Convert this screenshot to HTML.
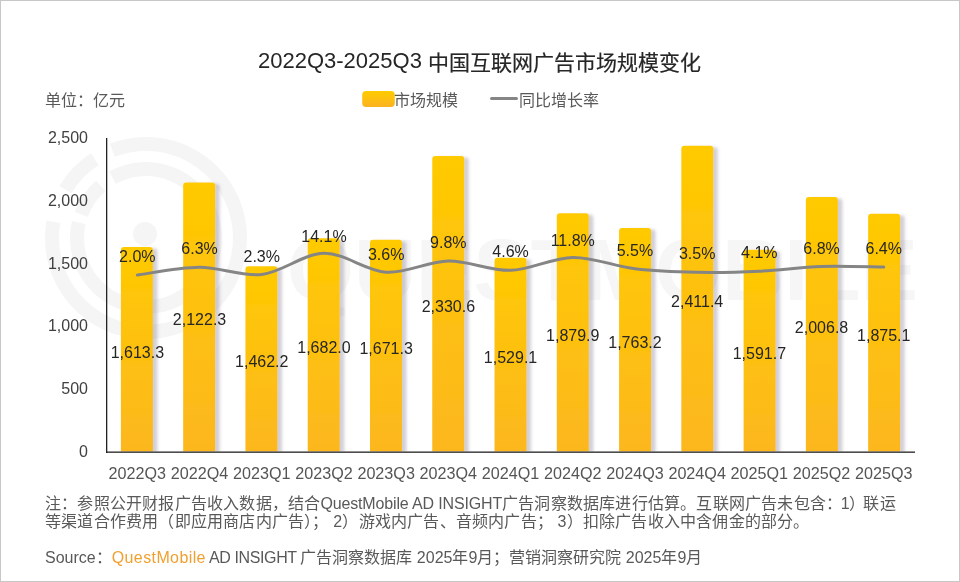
<!DOCTYPE html>
<html lang="zh-CN"><head><meta charset="utf-8"><style>
html,body{margin:0;padding:0;background:#fff;}
body{will-change:transform;width:960px;height:582px;overflow:hidden;position:relative;font-family:"Liberation Sans",sans-serif;}
.frame{position:absolute;left:0;top:0;width:960px;height:582px;box-sizing:border-box;border:1px solid #c7c7c7;}
svg{position:absolute;left:0;top:0;}
.t{position:absolute;white-space:nowrap;line-height:1;}
</style></head><body>
<svg width="960" height="582" viewBox="0 0 960 582">
<defs>
<linearGradient id="bg" x1="0" y1="0" x2="0" y2="1" gradientUnits="objectBoundingBox">
<stop offset="0" stop-color="#FFCA00"/><stop offset="1" stop-color="#FCB71F"/></linearGradient>
<linearGradient id="lg" x1="0" y1="0" x2="0" y2="1"><stop offset="0" stop-color="#FFCC00"/><stop offset="1" stop-color="#FBB321"/></linearGradient>
<filter id="sh" x="-30%" y="-5%" width="160%" height="105%">
<feDropShadow dx="4.5" dy="1.5" stdDeviation="1.7" flood-color="#746c80" flood-opacity="0.32"/>
</filter>
<clipPath id="pc"><rect x="0" y="0" width="960" height="451.6"/></clipPath>
</defs>
<g fill="none" stroke="#f5f5f5" stroke-width="14"><path d="M112.31,150.24A94,94 0 1 1 53.43,221.68"/><path d="M65.43,189.59A94,94 0 0 1 94.80,159.16"/><path d="M112.55,177.65A69,69 0 1 1 78.77,222.48"/><path d="M81.16,214.40A69,69 0 0 1 100.73,185.93"/></g>
<circle cx="145" cy="234" r="12" fill="#f5f5f5"/>
<text x="287" y="300" font-family="Liberation Sans" font-weight="bold" font-size="87" fill="#f6f6f6" textLength="631" lengthAdjust="spacingAndGlyphs">QUESTMOBILE</text>
<g clip-path="url(#pc)"><g fill="url(#bg)" filter="url(#sh)">
<path d="M120.90,451.70V250.04Q120.90,247.04 123.90,247.04H149.90Q152.90,247.04 152.90,250.04V451.70Z"/><path d="M183.17,451.70V185.47Q183.17,182.47 186.17,182.47H212.17Q215.17,182.47 215.17,185.47V451.70Z"/><path d="M245.44,451.70V269.21Q245.44,266.21 248.44,266.21H274.44Q277.44,266.21 277.44,269.21V451.70Z"/><path d="M307.71,451.70V241.32Q307.71,238.32 310.71,238.32H336.71Q339.71,238.32 339.71,241.32V451.70Z"/><path d="M369.98,451.70V242.68Q369.98,239.68 372.98,239.68H398.98Q401.98,239.68 401.98,242.68V451.70Z"/><path d="M432.25,451.70V159.04Q432.25,156.04 435.25,156.04H461.25Q464.25,156.04 464.25,159.04V451.70Z"/><path d="M494.52,451.70V260.72Q494.52,257.72 497.52,257.72H523.52Q526.52,257.72 526.52,260.72V451.70Z"/><path d="M556.79,451.70V216.22Q556.79,213.22 559.79,213.22H585.79Q588.79,213.22 588.79,216.22V451.70Z"/><path d="M619.06,451.70V231.02Q619.06,228.02 622.06,228.02H648.06Q651.06,228.02 651.06,231.02V451.70Z"/><path d="M681.33,451.70V148.79Q681.33,145.79 684.33,145.79H710.33Q713.33,145.79 713.33,148.79V451.70Z"/><path d="M743.60,451.70V252.78Q743.60,249.78 746.60,249.78H772.60Q775.60,249.78 775.60,252.78V451.70Z"/><path d="M805.87,451.70V200.12Q805.87,197.12 808.87,197.12H834.87Q837.87,197.12 837.87,200.12V451.70Z"/><path d="M868.14,451.70V216.82Q868.14,213.82 871.14,213.82H897.14Q900.14,213.82 900.14,216.82V451.70Z"/>
</g></g>
<rect x="106" y="138" width="1.3" height="315" fill="#222"/>
<rect x="106" y="451.5" width="809" height="1.3" fill="#222"/>
<path d="M137.35,275.01 C147.72,273.73 178.82,267.39 199.55,267.30 C220.28,267.21 241.02,276.81 261.75,274.48 C282.48,272.15 303.22,253.71 323.95,253.32 C344.68,252.93 365.42,270.86 386.15,272.15 C406.88,273.43 427.62,261.33 448.35,261.03 C469.08,260.73 489.82,270.95 510.55,270.35 C531.28,269.75 552.02,257.71 572.75,257.44 C593.48,257.17 614.22,266.26 634.95,268.74 C655.68,271.22 676.42,271.91 697.15,272.32 C717.88,272.74 738.62,272.23 759.35,271.25 C780.08,270.26 800.82,267.09 821.55,266.41 C842.28,265.72 873.38,267.01 883.75,267.12" fill="none" stroke="#858585" stroke-width="3" stroke-linecap="round"/>
<g font-family="Liberation Sans" font-size="16" fill="#262626" text-anchor="middle">
<text x="137.35" y="261.70">2.0%</text><text x="199.55" y="254.30">6.3%</text><text x="261.75" y="261.70">2.3%</text><text x="323.95" y="241.70">14.1%</text><text x="386.15" y="260.00">3.6%</text><text x="448.35" y="248.30">9.8%</text><text x="510.55" y="256.70">4.6%</text><text x="572.75" y="245.70">11.8%</text><text x="634.95" y="256.00">5.5%</text><text x="697.15" y="259.30">3.5%</text><text x="759.35" y="258.30">4.1%</text><text x="821.55" y="254.00">6.8%</text><text x="883.75" y="254.00">6.4%</text>
<text x="137.35" y="357.67">1,613.3</text><text x="199.55" y="325.38">2,122.3</text><text x="261.75" y="367.25">1,462.2</text><text x="323.95" y="353.31">1,682.0</text><text x="386.15" y="353.99">1,671.3</text><text x="448.35" y="312.17">2,330.6</text><text x="510.55" y="363.01">1,529.1</text><text x="572.75" y="340.76">1,879.9</text><text x="634.95" y="348.16">1,763.2</text><text x="697.15" y="307.04">2,411.4</text><text x="759.35" y="359.04">1,591.7</text><text x="821.55" y="332.71">2,006.8</text><text x="883.75" y="341.06">1,875.1</text>
</g>
<g font-family="Liberation Sans" font-size="16" fill="#404040" text-anchor="end">
<text x="88" y="142.8">2,500</text><text x="88" y="205.8">2,000</text><text x="88" y="268.6">1,500</text><text x="88" y="331.4">1,000</text><text x="88" y="394">500</text><text x="88" y="456.7">0</text>
</g>
<g font-family="Liberation Sans" font-size="17" fill="#555" text-anchor="middle">
<text x="137.35" y="479" textLength="57.5" lengthAdjust="spacingAndGlyphs">2022Q3</text><text x="199.55" y="479" textLength="57.5" lengthAdjust="spacingAndGlyphs">2022Q4</text><text x="261.75" y="479" textLength="57.5" lengthAdjust="spacingAndGlyphs">2023Q1</text><text x="323.95" y="479" textLength="57.5" lengthAdjust="spacingAndGlyphs">2023Q2</text><text x="386.15" y="479" textLength="57.5" lengthAdjust="spacingAndGlyphs">2023Q3</text><text x="448.35" y="479" textLength="57.5" lengthAdjust="spacingAndGlyphs">2023Q4</text><text x="510.55" y="479" textLength="57.5" lengthAdjust="spacingAndGlyphs">2024Q1</text><text x="572.75" y="479" textLength="57.5" lengthAdjust="spacingAndGlyphs">2024Q2</text><text x="634.95" y="479" textLength="57.5" lengthAdjust="spacingAndGlyphs">2024Q3</text><text x="697.15" y="479" textLength="57.5" lengthAdjust="spacingAndGlyphs">2024Q4</text><text x="759.35" y="479" textLength="57.5" lengthAdjust="spacingAndGlyphs">2025Q1</text><text x="821.55" y="479" textLength="57.5" lengthAdjust="spacingAndGlyphs">2025Q2</text><text x="883.75" y="479" textLength="57.5" lengthAdjust="spacingAndGlyphs">2025Q3</text>
</g>
<rect x="362.2" y="91" width="32.6" height="15.9" rx="4" fill="url(#lg)"/>
<path d="M491.5,98.4H516.5" stroke="#858585" stroke-width="3" stroke-linecap="round"/>
</svg>
<div class="frame"></div>
<div class="t" style="left:258px;top:50px;font-size:22px;color:#262626">2022Q3-2025Q3 <span style="font-size:21px;position:relative;top:2px;-webkit-text-stroke:0.2px #262626">中国互联网广告市场规模变化</span></div>
<div class="t" style="left:45px;top:93px;font-size:16px;color:#595959">单位：亿元</div>
<div class="t" style="left:394px;top:93px;font-size:16px;color:#595959">市场规模</div>
<div class="t" style="left:519px;top:93px;font-size:16px;color:#595959">同比增长率</div>
<div class="t" style="left:45px;top:495px;font-size:16px;color:#595959;line-height:18px;letter-spacing:0.2px">注：参照公开财报广告收入数据，结合<span style="letter-spacing:-0.15px">QuestMobile AD INSIGHT</span>广告洞察数据库进行估算。互联网广告未包含<span style="letter-spacing:-1.2px">：1）</span>联运<br>等渠道合作费用（即应用商店内广告）； 2）游戏内广告、音频内广告； 3）扣除广告收入中含佣金的部分。</div>
<div class="t" style="left:45px;top:550px;font-size:16px;color:#595959">Source：<span style="color:#F0A030;letter-spacing:0.4px">QuestMobile</span><span style="letter-spacing:-0.4px"> AD INSIGHT </span>广告洞察数据库 2025年9月；营销洞察研究院 2025年9月</div>
</body></html>
